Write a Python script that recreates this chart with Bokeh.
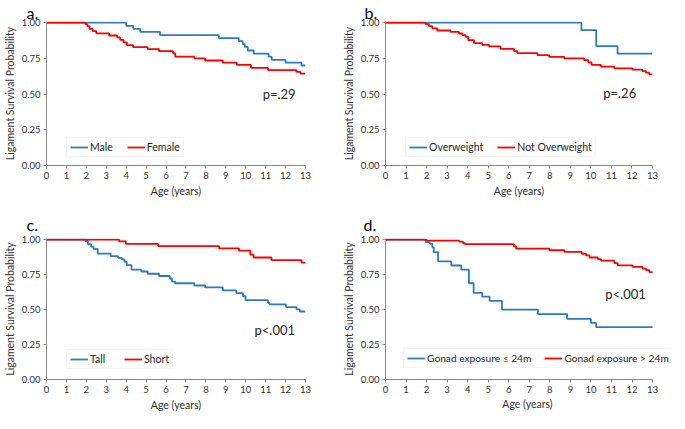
from bokeh.plotting import figure
from bokeh.layouts import column, row
from bokeh.models import FixedTicker, PrintfTickFormatter, Legend, LegendItem, Range1d, Title
from bokeh.embed import file_html
from bokeh.resources import INLINE
from bokeh.core.properties import value

BLUE = "#2E7BC4"
RED = "#FF0000"
FONT = "Lato"

x_ticks = list(range(0, 14))
y_ticks = [0, 0.25, 0.5, 0.75, 1.0]

# Panel a: sex
male_t = [4.0, 4.35, 4.7, 5.7, 8.65, 9.65, 9.85, 9.95, 10.1, 10.4, 11.15, 11.3, 12.0, 12.8]
male_s = [0.978, 0.957, 0.935, 0.913, 0.892, 0.87, 0.85, 0.83, 0.805, 0.783, 0.762, 0.74, 0.72, 0.70]
female_t = [1.95, 2.05, 2.16, 2.32, 2.5, 3.14, 3.54, 3.7, 3.87, 4.03, 4.35, 5.08, 5.65, 6.35, 6.46,
            7.42, 7.96, 8.85, 9.55, 10.26, 11.12, 12.55, 12.75]
female_s = [0.99, 0.975, 0.956, 0.94, 0.925, 0.91, 0.897, 0.88, 0.862, 0.842, 0.828, 0.815, 0.80, 0.785, 0.762,
            0.75, 0.735, 0.72, 0.705, 0.683, 0.668, 0.655, 0.643]

# Panel b: weight
over_t = [9.54, 10.26, 11.3]
over_s = [0.947, 0.836, 0.783]
notover_t = [1.95, 2.11, 2.28, 2.52, 3.17, 3.58, 3.74, 3.9, 4.03, 4.31, 4.71, 5.04, 5.6, 6.26, 6.42,
             7.4, 7.97, 8.7, 9.67, 9.87, 10.03, 10.49, 11.14, 12.03, 12.51, 12.68, 12.84]
notover_s = [0.99, 0.975, 0.96, 0.945, 0.935, 0.924, 0.913, 0.9, 0.877, 0.856, 0.845, 0.834, 0.816, 0.80, 0.787,
             0.772, 0.761, 0.75, 0.738, 0.722, 0.704, 0.692, 0.68, 0.671, 0.66, 0.65, 0.638]

# Panel c: height
tall_t = [1.95, 2.08, 2.24, 2.36, 2.57, 3.22, 3.59, 3.78, 3.91, 4.03, 4.27, 4.76, 5.08, 5.65, 6.19, 6.3, 6.46,
          7.42, 7.96, 8.85, 9.53, 9.86, 9.99, 11.12, 11.2, 12.02, 12.55, 12.71]
tall_s = [0.99, 0.967, 0.95, 0.934, 0.90, 0.882, 0.87, 0.859, 0.841, 0.818, 0.786, 0.772, 0.756, 0.74, 0.722, 0.70, 0.688,
          0.672, 0.658, 0.637, 0.618, 0.595, 0.567, 0.548, 0.537, 0.518, 0.502, 0.486]
short_t = [3.65, 3.98, 5.6, 8.66, 9.66, 10.23, 10.39, 11.29, 12.8]
short_s = [0.987, 0.97, 0.954, 0.938, 0.922, 0.893, 0.872, 0.853, 0.835]

# Panel d: gonad exposure
low_t = [1.96, 2.16, 2.28, 2.35, 2.56, 3.2, 3.69, 4.06, 4.29, 4.71, 5.07, 5.67, 7.42, 8.84, 10.0, 10.25]
low_s = [0.982, 0.97, 0.945, 0.91, 0.844, 0.815, 0.785, 0.688, 0.619, 0.592, 0.562, 0.50, 0.468, 0.434, 0.405, 0.374]
high_t = [1.99, 3.58, 3.77, 3.86, 6.25, 6.36, 7.98, 8.71, 9.55, 9.76, 9.93, 10.33, 10.49, 11.14, 11.3,
          12.03, 12.51, 12.68, 12.84]
high_s = [0.993, 0.986, 0.975, 0.968, 0.952, 0.935, 0.924, 0.913, 0.899, 0.888, 0.872, 0.861, 0.85, 0.832, 0.816,
          0.805, 0.793, 0.782, 0.768]

panel_letters = ["a.", "b.", "c.", "d."]
p_texts = ["p=.29", "p=.26", "p<.001", "p<.001"]
p_x = [10.85, 10.6, 10.44, 10.7]
p_y = [0.504, 0.51, 0.353, 0.608]
legend_labels = [["Male", "Female"], ["Overweight", "Not Overweight"],
                 ["Tall", "Short"], ["Gonad exposure \u2264 24m", "Gonad exposure > 24m"]]
curves = [[(male_t, male_s), (female_t, female_s)],
          [(over_t, over_s), (notover_t, notover_s)],
          [(tall_t, tall_s), (short_t, short_s)],
          [(low_t, low_s), (high_t, high_s)]]
X_MAX = 13


def make_panel(i, width, height, bl, br, bt, bb, leg_loc, leg_spacing, letter_off, letter_standoff,
               x_end=X_MAX, title_shift=None, leg_font="10.5px"):
    p = figure(width=width, height=height, output_backend="svg", toolbar_location=None,
               x_range=Range1d(0, x_end), y_range=Range1d(0, 1.008),
               min_border_left=bl, min_border_right=br, min_border_top=bt, min_border_bottom=bb,
               title=panel_letters[i])
    p.title.align = "left"
    p.title.offset = letter_off
    p.title.standoff = letter_standoff
    p.title.text_font = FONT
    p.title.text_font_size = "16px"
    p.title.text_font_style = "normal"
    p.title.text_color = "#000000"
    p.outline_line_color = None
    p.xgrid.visible = False
    p.ygrid.visible = False
    p.background_fill_color = "white"
    p.border_fill_color = "white"

    for ax in (p.xaxis[0], p.yaxis[0]):
        ax.axis_line_color = "#8a8a8a"
        ax.major_tick_line_color = "#8a8a8a"
        ax.major_tick_in = 0
        ax.major_tick_out = 3
        ax.minor_tick_line_color = None
        ax.major_label_text_font = FONT
        ax.major_label_text_font_size = "9.5px"
        ax.major_label_text_color = "#333333"
        ax.major_label_standoff = 3
        ax.axis_label_text_font = FONT
        ax.axis_label_text_font_size = "10.5px"
        ax.axis_label_text_font_style = "normal"
        ax.axis_label_text_color = "#333333"
        ax.axis_label_standoff = 3
    p.xaxis.ticker = FixedTicker(ticks=x_ticks)
    p.xaxis.bounds = (0, X_MAX)
    p.yaxis.ticker = FixedTicker(ticks=y_ticks)
    p.yaxis.formatter = PrintfTickFormatter(format="%.2f")
    p.yaxis.axis_label = "Ligament Survival Probability"
    if title_shift is None:
        p.xaxis.axis_label = "Age (years)"
    else:
        t = Title(text="Age (years)", align="center", offset=title_shift, standoff=0,
                  text_font=FONT, text_font_size="10.5px", text_font_style="normal",
                  text_color="#333333")
        p.add_layout(t, "below")

    items = []
    for (tt, s), col, lab in zip(curves[i], [BLUE, RED], legend_labels[i]):
        xs = [0] + tt + [X_MAX]
        ys = [1.0] + s + [s[-1]]
        r = p.step(xs, ys, mode="after", line_color=col, line_width=1.8)
        items.append(LegendItem(label=lab, renderers=[r]))

    p.text(x=[p_x[i]], y=[p_y[i]], text=[p_texts[i]], text_font=value(FONT),
           text_font_size="13px", text_color="#262626", text_baseline="middle", text_align="left")

    leg = Legend(items=items, location=leg_loc, orientation="horizontal",
                 glyph_width=18, glyph_height=12, label_standoff=2, spacing=leg_spacing,
                 padding=3, margin=0, background_fill_color="white", background_fill_alpha=1,
                 border_line_color="#ececec", label_text_font=FONT, label_text_font_size=leg_font,
                 label_text_color="#262626")
    p.add_layout(leg)
    return p


pa = make_panel(0, 334, 204, 38, 29, 20, 39, (20, 8), 14, -20, 0)
pb = make_panel(1, 335, 204, 51, 17, 20, 39, (20, 8), 14, -21, 0)
pc = make_panel(2, 334, 209, 38, 29, 34, 30, (20, 10), 14, -20, 10)
pd = make_panel(3, 335, 209, 51, 0, 34, 30, (18, 11), 13, -22, 10,
                x_end=X_MAX * 285.0 / 268.0, title_shift=-8.5, leg_font="10.2px")

layout = column(row(pa, pb), row(pc, pd))
open("out.html", "w").write(file_html(layout, INLINE))
